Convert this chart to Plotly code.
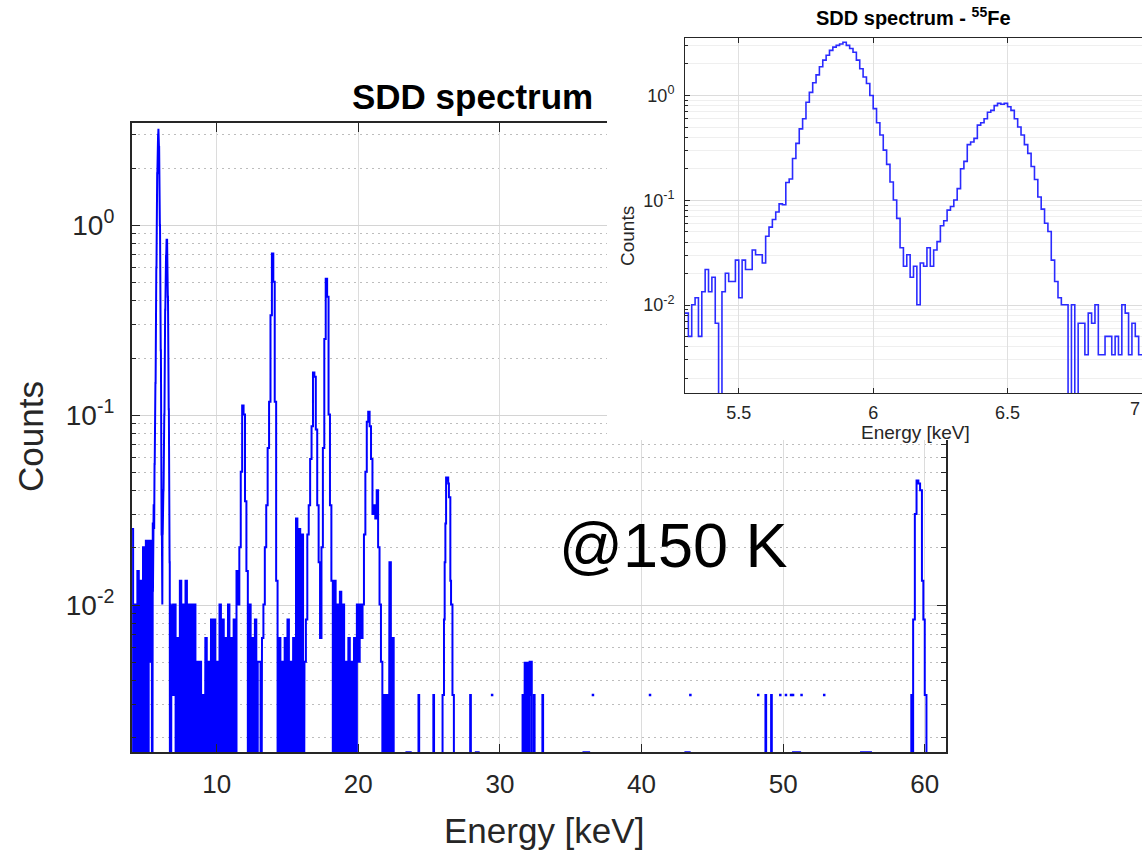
import numpy as np
import plotly.graph_objects as go

FONT = "Liberation Sans"
AX = "#262626"
BLUE = "#0000ff"
INSET_BLUE = "#2b2bff"

# ---------------- data ----------------
COUNT_UNIT = 0.00168      # normalised value of one count
BELOW_AXIS = 1e-6         # empty bins are drawn below the log axis

# 55Fe region (inset + main), fine bins
inset_start_kev = 5.3
inset_bin_kev = 0.0125
inset_counts = [
    5, 3, 6, 7, 3, 8, 13, 8, 11, 4,
    0, 8, 12, 10, 10, 16, 7, 16, 13, 13,
    20, 18, 18, 15, 27, 33, 39, 46, 55, 54,
    88, 95, 149, 208, 286, 357, 512, 637, 786, 935,
    1119, 1292, 1440, 1601, 1720, 1786, 1845, 1917, 1786, 1667,
    1536, 1292, 1071, 893, 774, 595, 446, 327, 250, 179,
    131, 89, 60, 40, 21, 14, 18, 11, 14, 6,
    15, 14, 21, 14, 20, 24, 34, 38, 48, 52,
    60, 77, 119, 140, 202, 214, 232, 310, 327, 357,
    411, 429, 476, 500, 490, 500, 464, 429, 357, 298,
    250, 202, 167, 125, 94, 64, 49, 36, 30, 16,
    10, 7, 6, 6, 0, 6, 0, 4, 4, 2,
    5, 4, 6, 2, 2, 3, 3, 2, 3, 2,
    6, 5, 2, 4, 3, 2,
]

# main spectrum, 0.1 keV bins from 4.0 to 5.3 keV
coarse_bin_kev = 0.1
low_start_kev = 4.0
low_counts = [15, 0, 6, 0, 9, 0, 8, 0, 12, 0, 13, 0, 13]

# main spectrum, 0.1 keV bins from 7.0 to 22.5 keV
mid_start_kev = 7.0
mid_counts = [
    6, 0, 4, 0, 8, 0, 6, 0, 8, 0,
    6, 0, 6, 0, 6, 0, 3, 0, 3, 0,
    2, 0, 4, 0, 3, 0, 5, 0, 5, 0,
    3, 0, 6, 0, 5, 0, 4, 0, 6, 0,
    4, 0, 5, 0, 9, 6, 12, 30, 67, 60,
    21, 9, 0, 6, 0, 4, 0, 5, 0, 3,
    3, 0, 4, 6, 12, 20, 40, 70, 200, 423,
    300, 70, 8, 0, 4, 0, 3, 0, 4, 0,
    5, 0, 3, 0, 4, 0, 17, 0, 15, 0,
    14, 0, 3, 5, 14, 20, 35, 52, 100, 95,
    50, 20, 10, 4, 12, 40, 150, 311, 250, 60,
    20, 8, 0, 8, 0, 6, 0, 7, 0, 6,
    0, 3, 0, 4, 0, 3, 0, 4, 0, 6,
    3, 6, 4, 6, 14, 30, 55, 62, 52, 35,
    18, 20, 17, 24, 12, 6, 3, 0, 2, 0,
    2, 0, 10, 0, 4,
]

# main spectrum above 22.5 keV: runs (start energy, counts until next start)
tail_run_start_kev = [
    22.5, 23.4, 23.7, 24.25, 24.3, 25.3, 25.35, 25.95, 26.05, 26.1,
    26.15, 26.2, 26.25, 26.3, 26.35, 26.4, 26.5, 26.55, 26.65, 26.75,
    27.9, 27.95, 28.3, 28.5, 31.6, 31.65, 31.7, 31.75, 31.8, 31.85,
    31.9, 31.95, 32.0, 32.05, 32.1, 32.15, 32.2, 32.25, 32.4, 32.45,
    33.0, 33.05, 35.9, 36.3, 43.1, 43.4, 48.75, 48.8, 49.15, 49.2,
    50.7, 51.2, 55.5, 56.2, 59.05, 59.1, 59.18, 59.3, 59.42, 59.55,
    59.67, 59.8, 59.9, 60.0, 60.12,
]
tail_run_counts = [
    0, 1, 0, 2, 0, 2, 0, 2, 5, 10,
    16, 28, 27, 28, 26, 22, 8, 6, 2, 0,
    2, 0, 1, 0, 2, 0, 3, 2, 3, 1,
    3, 2, 3, 0, 3, 2, 3, 0, 2, 0,
    2, 0, 1, 0, 1, 0, 2, 0, 2, 0,
    1, 0, 1, 0, 2, 1, 5, 18, 27, 26,
    24, 8, 5, 2, 0,
]
tail_end_kev = 61.5

# isolated single-bin events (neighbours empty)
isolated_kev = [29.45, 36.57, 40.6, 43.45, 48.24, 49.8, 50.2, 50.56, 50.7, 51.3, 52.9]
isolated_counts = [2, 2, 2, 2, 2, 2, 2, 2, 2, 2, 2]

# ticks
main_x_ticks = [10, 20, 30, 40, 50, 60]
inset_x_ticks = [5.5, 6, 6.5, 7]
inset_x_text = ["5.5", "6", "6.5", "7"]
y_major = [0.01, 0.1, 1]
y_major_text = ["10<sup>-2</sup>", "10<sup>-1</sup>", "10<sup>0</sup>"]
y_minor = [m * d for d in (1e-3, 1e-2, 1e-1, 1.0) for m in range(2, 10)]


# ---------------- helpers ----------------
def bin_edges(start, width, n):
    return list(np.round(start + width * np.arange(n + 1), 5))


def stairs(edges, counts):
    xs, ys = [], []
    for i, c in enumerate(counts):
        v = c * COUNT_UNIT if c > 0 else BELOW_AXIS
        xs += [edges[i], edges[i + 1]]
        ys += [v, v]
    return xs, ys


segments = [
    (bin_edges(low_start_kev, coarse_bin_kev, len(low_counts)), low_counts),
    (bin_edges(inset_start_kev, inset_bin_kev, len(inset_counts)), inset_counts),
    (bin_edges(mid_start_kev, coarse_bin_kev, len(mid_counts)), mid_counts),
    (list(tail_run_start_kev) + [tail_end_kev], tail_run_counts),
]
main_x, main_y = [], []
for e, c in segments:
    sx, sy = stairs(e, c)
    main_x += sx
    main_y += sy

inset_x, inset_y = stairs(bin_edges(inset_start_kev, inset_bin_kev, len(inset_counts)), inset_counts)

W, H = 1142, 851


def px(x):
    return x / W


def py(y):
    return 1 - y / H


fig = go.Figure()
fig.add_trace(go.Scatter(x=main_x, y=main_y, mode="lines",
                         line=dict(color=BLUE, width=2), hoverinfo="skip",
                         xaxis="x", yaxis="y"))
fig.add_trace(go.Scatter(x=isolated_kev, y=[c * COUNT_UNIT for c in isolated_counts],
                         mode="markers", marker=dict(color=BLUE, size=2.5, symbol="square"),
                         hoverinfo="skip", xaxis="x", yaxis="y"))
# white cover panel behind the inset (empty subplot)
fig.add_trace(go.Scatter(x=[0.5], y=[0.5], mode="markers", marker=dict(opacity=0),
                         hoverinfo="skip", xaxis="x2", yaxis="y2"))
fig.add_trace(go.Scatter(x=inset_x, y=inset_y, mode="lines",
                         line=dict(color=INSET_BLUE, width=1.6), hoverinfo="skip",
                         xaxis="x3", yaxis="y3"))

hidden = dict(showgrid=False, zeroline=False, showticklabels=False, showline=False,
              ticks="", range=[0, 1], fixedrange=True)

fig.update_layout(
    width=W, height=H, margin=dict(l=0, r=0, t=0, b=0),
    paper_bgcolor="white", plot_bgcolor="white", showlegend=False,
    font=dict(family=FONT, color=AX),
    xaxis=dict(domain=[px(131.7), px(946)], range=[4.0, 61.5], anchor="y",
               tickvals=main_x_ticks, ticks="inside", ticklen=9, tickwidth=1.3, tickcolor=AX,
               showline=True, linecolor=AX, linewidth=1.5, mirror="ticks",
               showgrid=True, gridcolor="#dcdcdc", gridwidth=1, zeroline=False,
               tickfont=dict(family=FONT, size=26, color=AX), ticklabelstandoff=8),
    yaxis=dict(domain=[py(752.3), py(123.3)], type="log",
               range=[np.log10(0.00168), 0.537], anchor="x",
               tickvals=y_major, ticktext=y_major_text, ticks="inside", ticklen=9,
               tickwidth=1.3, tickcolor=AX, showline=True, linecolor=AX, linewidth=1.5,
               mirror="ticks", showgrid=True, gridcolor="#d4d4d4", gridwidth=1,
               zeroline=False, tickfont=dict(family=FONT, size=28, color=AX),
               ticklabelstandoff=10,
               minor=dict(tickvals=y_minor, ticks="inside", ticklen=5, tickwidth=1,
                          tickcolor=AX, showgrid=True, gridcolor="#bdbdbd",
                          griddash="2px,4px", gridwidth=1)),
    xaxis2=dict(domain=[px(607), 1.0], anchor="y2", **hidden),
    yaxis2=dict(domain=[py(440), 1.0], anchor="x2", **hidden),
    xaxis3=dict(domain=[px(685), 1.0], range=[5.3, 7.0], anchor="y3",
                tickvals=inset_x_ticks, ticktext=inset_x_text, ticks="inside", ticklen=5,
                tickwidth=1, tickcolor=AX, showline=True, linecolor=AX, linewidth=1,
                mirror="ticks", showgrid=True, gridcolor="#e0e0e0", gridwidth=1,
                zeroline=False, tickfont=dict(family=FONT, size=18, color=AX),
                ticklabelstandoff=3),
    yaxis3=dict(domain=[py(393), py(38)], type="log", range=[-2.838, 0.548], anchor="x3",
                tickvals=y_major, ticktext=y_major_text, ticks="inside", ticklen=5,
                tickwidth=1, tickcolor=AX, showline=True, linecolor=AX, linewidth=1,
                mirror=False, showgrid=True, gridcolor="#dcdcdc", gridwidth=1,
                zeroline=False, tickfont=dict(family=FONT, size=18, color=AX),
                ticklabelstandoff=6,
                minor=dict(tickvals=y_minor, ticks="inside", ticklen=3, tickwidth=1,
                           tickcolor=AX, showgrid=True, gridcolor="#efefef", gridwidth=1)),
)

annotations = [
    dict(text="<b>SDD spectrum</b>", x=px(472), y=py(96), size=35, color="#000000",
         angle=0, xanchor="center"),
    dict(text="@150 K", x=px(673), y=py(545), size=63, color="#000000", angle=0,
         xanchor="center"),
    dict(text="Energy [keV]", x=px(544), y=py(830), size=35, color=AX, angle=0,
         xanchor="center"),
    dict(text="Counts", x=px(30), y=py(437), size=35, color=AX, angle=-90,
         xanchor="center"),
    dict(text="<b>SDD spectrum - <sup>55</sup>Fe</b>", x=px(913), y=py(16), size=20,
         color="#000000", angle=0, xanchor="center"),
    dict(text="Energy [keV]", x=px(915), y=py(432), size=19, color=AX, angle=0,
         xanchor="center"),
    dict(text="Counts", x=px(627), y=py(236), size=19, color=AX, angle=-90,
         xanchor="center"),
    # last inset tick label, sitting at the right page edge
    dict(text=inset_x_text[-1], x=1.0, y=py(409), size=18, color=AX, angle=0,
         xanchor="right"),
]
for a in annotations:
    fig.add_annotation(text=a["text"], x=a["x"], y=a["y"], xref="paper", yref="paper",
                       xanchor=a["xanchor"], yanchor="middle", showarrow=False,
                       textangle=a["angle"],
                       font=dict(family=FONT, size=a["size"], color=a["color"]))

fig.write_html("out.html")
